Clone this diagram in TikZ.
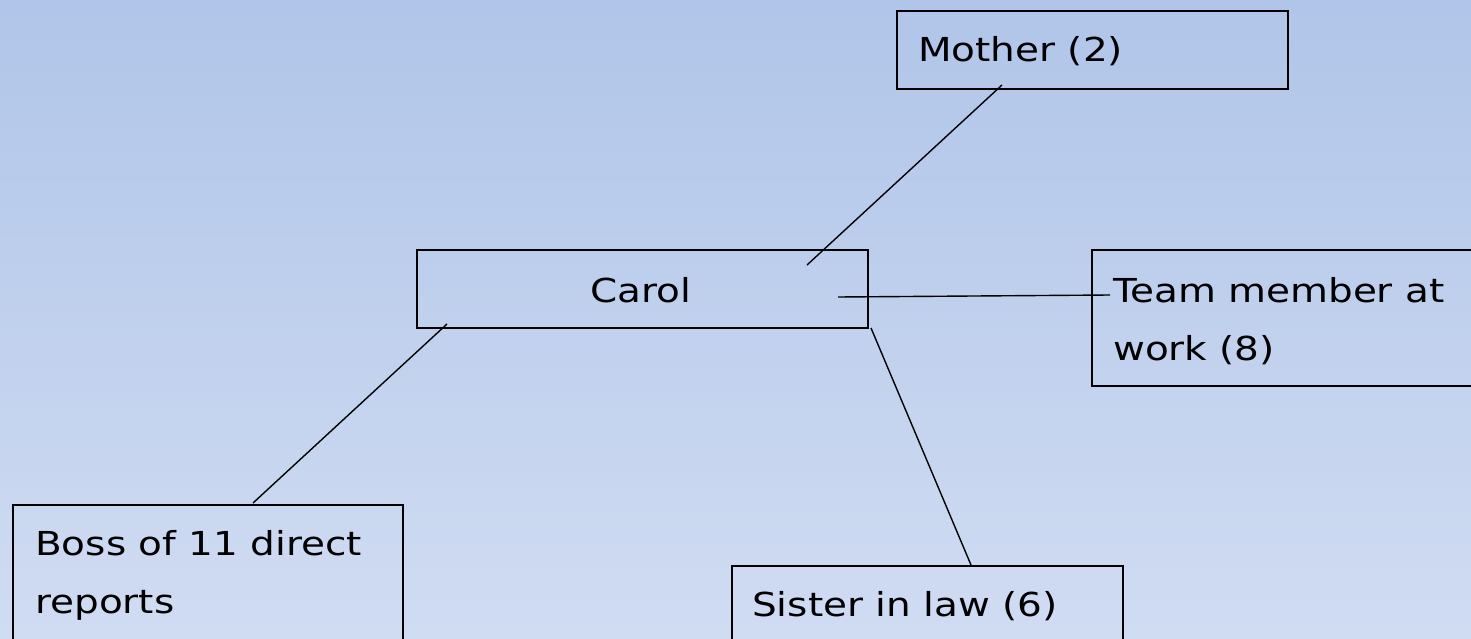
\documentclass[tikz,border=0pt]{standalone}
\usepackage{fontspec}
\setmainfont[FakeStretch=1.18]{DejaVu Sans}
\begin{document}
\begin{tikzpicture}[x=1pt,y=-1pt,
  box/.style={draw=black, line width=2.2pt, rectangle, inner sep=0pt, anchor=north west},
  lbl/.style={anchor=base west, inner sep=0pt, font=\fontsize{33}{58}\selectfont, align=left},
  link/.style={draw=black, line width=1.4pt}]
\definecolor{bgtop}{RGB}{176,197,233}
\definecolor{bgbot}{RGB}{208,220,242}
\useasboundingbox (0,0) rectangle (1471,639);
\clip (0,0) rectangle (1471,639);
\shade[top color=bgtop, bottom color=bgbot] (0,0) rectangle (1471,639);
% boxes
\node[box, minimum width=391pt, minimum height=78pt] (mother) at (896,10) {};
\node[box, minimum width=451pt, minimum height=78pt] (carol) at (416,249) {};
\node[box, minimum width=400pt, minimum height=136pt] (team) at (1091,249) {};
\node[box, minimum width=390pt, minimum height=160pt] (boss) at (12,504) {};
\node[box, minimum width=391pt, minimum height=100pt] (sister) at (731,565) {};
% labels (multi-line labels are placed by the baseline of their last line)
\node[lbl] (tmother) at (918,62) {Mother (2)};
\node[lbl, anchor=base] (tcarol) at (641,302) {Carol};
\node[lbl] (tteam) at (1113,360) {Team member at\\work (8)};
\node[lbl] (tboss) at (35,613) {Boss of 11 direct\\reports};
\node[lbl] (tsister) at (752,616) {Sister in law (6)};
% connector ends
\coordinate (m1) at (1002,85);
\coordinate (m2) at (807,265);
\coordinate (t1) at (838,297);
\coordinate (t2) at (1110,295);
\coordinate (b1) at (447,324);
\coordinate (b2) at (253,503);
\coordinate (s1) at (871,328);
\coordinate (s2) at (971,565);
\draw[link] (m1) -- (m2);
\draw[link] (t1) -- (t2);
\draw[link] (b1) -- (b2);
\draw[link] (s1) -- (s2);
\end{tikzpicture}
\end{document}
